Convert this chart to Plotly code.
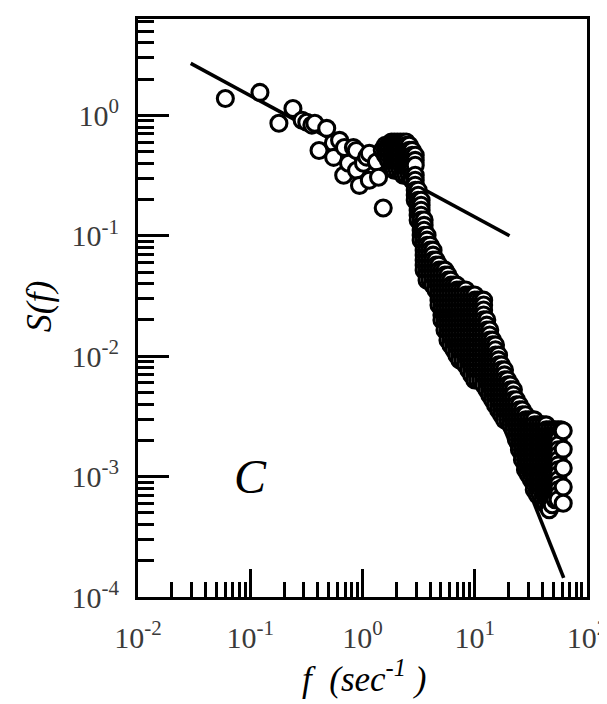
import numpy as np
import plotly.graph_objects as go

# ---------------- data ----------------
# low-frequency part of the spectrum
low_f = [0.060, 0.122, 0.18, 0.24, 0.29, 0.319, 0.354, 0.376, 0.41, 0.48, 0.553, 0.55, 0.625,
         0.68, 0.69, 0.75, 0.83, 0.885, 0.88, 0.94, 1.02, 1.09, 1.15, 1.15, 1.33, 1.39, 1.53]
low_S = [1.38, 1.55, 0.86, 1.14, 0.91, 0.875, 0.83, 0.86, 0.51, 0.78, 0.448, 0.59, 0.62,
         0.318, 0.54, 0.40, 0.54, 0.35, 0.51, 0.262, 0.40, 0.45, 0.289, 0.484, 0.41, 0.306, 0.17]

# peak around 2 Hz: one power level per row, with the frequencies seen on that row
peak_levels = [0.60, 0.564, 0.512, 0.466, 0.423, 0.385, 0.350, 0.318]
peak_rows = [
    [1.81, 1.92, 2.04, 2.17, 2.31, 2.45],
    [1.60, 1.70, 1.81, 1.92, 2.04, 2.17, 2.31, 2.45, 2.61],
    [1.50, 1.60, 1.70, 1.81, 1.92, 2.04, 2.17, 2.31, 2.45, 2.61, 2.77],
    [1.60, 1.70, 1.81, 1.92, 2.04, 2.17, 2.31, 2.45, 2.61, 2.77, 2.95],
    [1.70, 1.81, 1.92, 2.04, 2.17, 2.31, 2.45, 2.61, 2.77, 2.95],
    [1.81, 1.92, 2.04, 2.17, 2.31, 2.45, 2.61, 2.77, 2.95],
    [1.92, 2.04, 2.17, 2.31, 2.45, 2.61, 2.77],
    [2.31, 2.45, 2.61, 2.77, 2.95],
]

# steep high-frequency band: power level per row and the frequencies on that row
band_levels = [0.289, 0.263, 0.239, 0.217, 0.197, 0.179, 0.163, 0.148, 0.135, 0.122,
               0.111, 0.101, 0.0919, 0.0835, 0.0759, 0.0690, 0.0627, 0.0570, 0.0518, 0.0471,
               0.0428, 0.0389, 0.0354, 0.0322, 0.0292, 0.0266, 0.0242, 0.0220, 0.0200, 0.0181,
               0.0165, 0.0150, 0.0136, 0.0124, 0.0113, 0.0102, 0.00931, 0.00846, 0.00769, 0.00699,
               0.00635, 0.00578, 0.00525, 0.00477, 0.00434, 0.00394, 0.00358, 0.00326, 0.00296, 0.00269,
               0.00245, 0.00222, 0.00202, 0.00184, 0.00167, 0.00152, 0.00138, 0.00125, 0.00114, 0.00104,
               0.000942, 0.000856, 0.000778, 0.000707, 0.000643, 0.000584, 0.000531]
band_rows = [
    [2.77, 2.95],
    [2.95],
    [2.95, 3.13],
    [2.95, 3.13],
    [2.95, 3.13, 3.33],
    [3.13, 3.33],
    [3.13, 3.33],
    [3.13, 3.33],
    [3.13, 3.33, 3.54],
    [3.33, 3.54],
    [3.33, 3.54],
    [3.33, 3.54, 3.76],
    [3.33, 3.54, 3.76],
    [3.54, 3.76, 4.00],
    [3.54, 3.76, 4.00, 4.25],
    [3.54, 3.76, 4.00, 4.25],
    [3.54, 3.76, 4.00, 4.25, 4.52],
    [3.54, 3.76, 4.00, 4.25, 4.52, 4.80],
    [3.54, 3.76, 4.00, 4.25, 4.52, 4.80, 5.10, 5.43],
    [3.76, 4.00, 4.25, 4.52, 4.80, 5.10, 5.43, 5.77],
    [3.76, 4.00, 4.25, 4.52, 4.80, 5.10, 5.43, 5.77, 6.13],
    [4.25, 4.52, 4.80, 5.10, 5.43, 5.77, 6.13, 6.52, 6.93],
    [4.52, 4.80, 5.10, 5.43, 5.77, 6.13, 6.52, 6.93, 7.36, 7.83, 8.32],
    [4.80, 5.10, 5.43, 5.77, 6.13, 6.52, 6.93, 7.36, 7.83, 8.32, 8.85, 9.40, 10.0],
    [4.80, 5.10, 5.43, 5.77, 6.13, 6.52, 6.93, 7.36, 7.83, 8.32, 8.85, 9.40, 10.0, 10.6, 11.3, 12.0],
    [4.80, 5.10, 5.43, 5.77, 6.13, 6.52, 6.93, 7.36, 7.83, 8.32, 8.85, 9.40, 10.0, 10.6, 11.3, 12.0],
    [5.10, 5.43, 5.77, 6.13, 6.52, 6.93, 7.36, 7.83, 8.32, 8.85, 9.40, 10.0, 10.6, 11.3, 12.0],
    [5.10, 5.43, 5.77, 6.13, 6.52, 6.93, 7.36, 7.83, 8.32, 8.85, 9.40, 10.0, 10.6, 11.3, 12.0],
    [5.10, 5.43, 5.77, 6.13, 6.52, 6.93, 7.36, 7.83, 8.32, 8.85, 9.40, 10.0, 10.6, 11.3, 12.0, 12.8],
    [5.43, 5.77, 6.13, 6.52, 6.93, 7.36, 7.83, 8.32, 8.85, 9.40, 10.0, 10.6, 11.3, 12.0, 12.8],
    [5.43, 5.77, 6.13, 6.52, 6.93, 7.36, 7.83, 8.32, 8.85, 9.40, 10.0, 10.6, 11.3, 12.0, 12.8, 13.6],
    [5.77, 6.13, 6.52, 6.93, 7.36, 7.83, 8.32, 8.85, 9.40, 10.0, 10.6, 11.3, 12.0, 12.8, 13.6],
    [5.77, 6.13, 6.52, 6.93, 7.36, 7.83, 8.32, 8.85, 9.40, 10.0, 10.6, 11.3, 12.0, 12.8, 13.6, 14.4],
    [6.13, 6.52, 6.93, 7.36, 7.83, 8.32, 8.85, 9.40, 10.0, 10.6, 11.3, 12.0, 12.8, 13.6, 14.4, 15.3],
    [6.52, 6.93, 7.36, 7.83, 8.32, 8.85, 9.40, 10.0, 10.6, 11.3, 12.0, 12.8, 13.6, 14.4, 15.3],
    [6.93, 7.36, 7.83, 8.32, 8.85, 9.40, 10.0, 10.6, 11.3, 12.0, 12.8, 13.6, 14.4, 15.3, 16.3],
    [7.36, 7.83, 8.32, 8.85, 9.40, 10.0, 10.6, 11.3, 12.0, 12.8, 13.6, 14.4, 15.3, 16.3],
    [8.32, 8.85, 9.40, 10.0, 10.6, 11.3, 12.0, 12.8, 13.6, 14.4, 15.3, 16.3, 17.3],
    [8.85, 9.40, 10.0, 10.6, 11.3, 12.0, 12.8, 13.6, 14.4, 15.3, 16.3, 17.3, 18.4],
    [9.40, 10.0, 10.6, 11.3, 12.0, 12.8, 13.6, 14.4, 15.3, 16.3, 17.3, 18.4],
    [10.0, 10.6, 11.3, 12.0, 12.8, 13.6, 14.4, 15.3, 16.3, 17.3, 18.4, 19.6],
    [12.0, 12.8, 13.6, 14.4, 15.3, 16.3, 17.3, 18.4, 19.6, 20.8],
    [12.8, 13.6, 14.4, 15.3, 16.3, 17.3, 18.4, 19.6, 20.8, 22.1],
    [13.6, 14.4, 15.3, 16.3, 17.3, 18.4, 19.6, 20.8, 22.1],
    [14.4, 15.3, 16.3, 17.3, 18.4, 19.6, 20.8, 22.1, 23.5],
    [15.3, 16.3, 17.3, 18.4, 19.6, 20.8, 22.1, 23.5, 25.0],
    [16.3, 17.3, 18.4, 19.6, 20.8, 22.1, 23.5, 25.0, 26.6],
    [17.3, 18.4, 19.6, 20.8, 22.1, 23.5, 25.0, 26.6, 28.3],
    [18.4, 19.6, 20.8, 22.1, 23.5, 25.0, 26.6, 28.3, 30.0, 31.9, 33.9],
    [20.8, 22.1, 23.5, 25.0, 26.6, 28.3, 30.0, 31.9, 33.9, 36.1, 38.3, 40.8, 43.3],
    [22.1, 23.5, 25.0, 26.6, 28.3, 30.0, 31.9, 33.9, 36.1, 38.3, 40.8, 43.3, 46.1, 49.0, 52.0, 55.3, 58.8],
    [23.5, 25.0, 26.6, 28.3, 30.0, 31.9, 33.9, 36.1, 38.3, 40.8, 43.3, 46.1, 49.0, 52.0, 55.3],
    [23.5, 25.0, 26.6, 28.3, 30.0, 31.9, 33.9, 36.1, 38.3, 40.8, 43.3, 46.1, 49.0, 52.0, 55.3],
    [25.0, 26.6, 28.3, 30.0, 31.9, 33.9, 36.1, 38.3, 40.8, 43.3, 46.1, 49.0, 52.0, 55.3],
    [25.0, 26.6, 28.3, 30.0, 31.9, 33.9, 36.1, 38.3, 40.8, 43.3, 46.1, 49.0, 52.0, 55.3],
    [26.6, 28.3, 30.0, 31.9, 33.9, 36.1, 38.3, 40.8, 43.3, 46.1, 49.0, 52.0, 55.3],
    [26.6, 28.3, 30.0, 31.9, 33.9, 36.1, 38.3, 40.8, 43.3, 46.1, 49.0, 52.0, 55.3],
    [28.3, 30.0, 31.9, 33.9, 36.1, 38.3, 40.8, 43.3, 46.1, 49.0, 52.0, 55.3],
    [28.3, 30.0, 31.9, 33.9, 36.1, 38.3, 40.8, 43.3, 46.1, 49.0, 52.0, 55.3],
    [30.0, 31.9, 33.9, 36.1, 38.3, 40.8, 43.3, 46.1, 49.0, 52.0, 55.3],
    [31.9, 33.9, 36.1, 38.3, 40.8, 43.3, 46.1, 49.0, 52.0, 55.3],
    [33.9, 36.1, 38.3, 40.8, 43.3, 46.1, 49.0, 52.0, 55.3],
    [33.9, 36.1, 38.3, 40.8, 43.3, 46.1, 49.0, 52.0, 55.3],
    [36.1, 38.3, 40.8, 43.3, 46.1, 49.0, 52.0, 55.3],
    [40.8, 43.3, 46.1, 49.0, 52.0, 55.3],
    [43.3, 46.1, 49.0],
    [46.1],
]

# highest-frequency points (column at the right edge)
edge_f = [61.4, 61.4, 61.4, 61.4, 61.4]
edge_S = [0.0024, 0.00169, 0.00118, 0.00082, 0.00060]

# fitted power-law lines (endpoints)
fit1_f = [0.0295, 20.4]
fit1_S = [2.7, 0.10]
fit2_f = [2.4, 62.0]
fit2_S = [0.30, 1.44e-4]

major_vals_x = [0.01, 0.1, 1, 10, 100]
major_text_x = ["10<sup>-2</sup>", "10<sup>-1</sup>", "10<sup>0</sup>", "10<sup>1</sup>", "10<sup>2</sup>"]
major_vals_y = [1e-4, 1e-3, 1e-2, 1e-1, 1]
major_text_y = ["10<sup>-4</sup>", "10<sup>-3</sup>", "10<sup>-2</sup>", "10<sup>-1</sup>", "10<sup>0</sup>"]

# ---------------- assemble ----------------
f_list, S_list = list(low_f), list(low_S)
for lvl, row in zip(peak_levels, peak_rows):
    f_list += row
    S_list += [lvl] * len(row)
for lvl, row in zip(band_levels, band_rows):
    f_list += row
    S_list += [lvl] * len(row)
f_list += edge_f
S_list += edge_S
f_all = np.array(f_list)
S_all = np.array(S_list)
order = np.argsort(f_all, kind="stable")   # spectrum drawn in frequency order

fig = go.Figure()
fig.add_trace(go.Scatter(x=fit1_f, y=fit1_S, mode="lines",
                         line=dict(color="black", width=3.6), showlegend=False))
fig.add_trace(go.Scatter(x=fit2_f, y=fit2_S, mode="lines",
                         line=dict(color="black", width=3.6), showlegend=False))
fig.add_trace(go.Scatter(x=f_all[order], y=S_all[order], mode="markers",
                         marker=dict(symbol="circle", size=16, color="white",
                                     line=dict(color="black", width=3.1)),
                         showlegend=False))

minor_x = [m * 10.0 ** e for e in range(-2, 2) for m in range(2, 10)]
minor_y = [m * 10.0 ** e for e in range(-4, 1) for m in range(2, 10)]

serif = "Liberation Serif, Times New Roman, serif"
fig.update_xaxes(type="log", range=[-2, 2], showline=True, linecolor="black", linewidth=3,
                 mirror=True, ticks="inside", ticklen=28, tickwidth=3, tickcolor="black",
                 tickmode="array", tickvals=major_vals_x, ticktext=major_text_x,
                 tickfont=dict(family=serif, size=30, color="#3a3a3a"),
                 ticklabelstandoff=12,
                 minor=dict(ticks="inside", ticklen=15, tickwidth=3, tickcolor="black",
                            tickmode="array", tickvals=minor_x, showgrid=False),
                 showgrid=False, zeroline=False)
fig.update_yaxes(type="log", range=[-4, 0.80], showline=True, linecolor="black", linewidth=3,
                 mirror=True, ticks="inside", ticklen=31, tickwidth=3, tickcolor="black",
                 tickmode="array", tickvals=major_vals_y, ticktext=major_text_y,
                 tickfont=dict(family=serif, size=30, color="#3a3a3a"),
                 ticklabelstandoff=10,
                 minor=dict(ticks="inside", ticklen=16, tickwidth=3, tickcolor="black",
                            tickmode="array", tickvals=minor_y, showgrid=False),
                 showgrid=False, zeroline=False)

fig.add_annotation(x=-1.0, y=-3.0, xref="x", yref="y", text="<i>C</i>", showarrow=False,
                   xanchor="center", yanchor="middle",
                   font=dict(family=serif, size=48, color="black"))
fig.add_annotation(x=(31 - 130) / 453, y=0.5026, xref="paper", yref="paper",
                   text="<i>S(f)</i>", textangle=-90, showarrow=False,
                   xanchor="center", yanchor="middle",
                   font=dict(family=serif, size=36, color="black"))
fig.add_annotation(x=0.503, y=(589 - 669) / 581, xref="paper", yref="paper",
                   text="<i>f  (sec<sup>-1</sup> )</i>", showarrow=False,
                   xanchor="center", yanchor="middle",
                   font=dict(family=serif, size=35, color="black"))

fig.update_layout(width=607, height=704, margin=dict(l=130, r=24, t=8, b=115),
                  plot_bgcolor="white", paper_bgcolor="white")

fig.write_html("out.html")
